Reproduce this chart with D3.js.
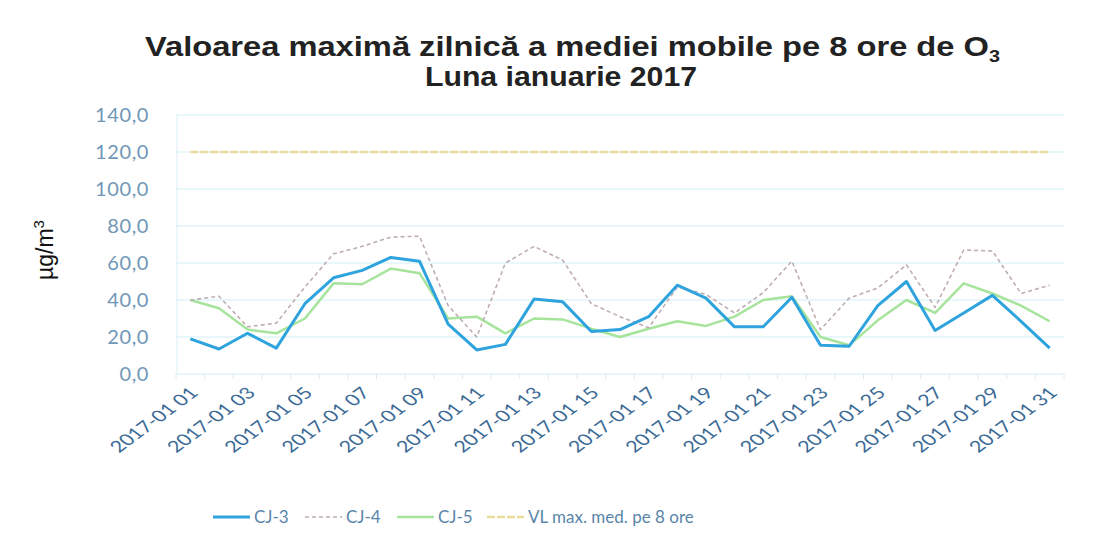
<!DOCTYPE html>
<html>
<head>
<meta charset="utf-8">
<style>
  body { margin: 0; background: #fff; }
  svg { display: block; }
</style>
</head>
<body>
<svg id="chart" width="1113" height="544"></svg>
<script src="https://cdn.jsdelivr.net/npm/d3@7"></script>
<script>
// day labels for Jan 2017
const days = d3.range(1, 32).map(d => "2017-01 " + String(d).padStart(2, "0"))

const cj3 = [19, 13.5, 22, 14, 38, 52, 56, 63, 61, 27, 13, 16, 40.5, 39, 23, 24, 31, 48, 41, 25.5, 25.5, 41.5, 15.5, 15, 37, 50, 23.5, 33, 42.5, 28.5, 14]
const cj4 = [40, 42, 25.5, 27.5, 47, 65, 69, 74, 74.5, 37, 20, 60, 69, 61.5, 38, 31, 25, 47, 43, 33, 44, 61, 24, 41, 46.5, 59, 36, 67, 66.5, 43.5, 48]
const cj5 = [40, 35.5, 24, 22, 30, 49, 48.5, 57, 54.5, 30, 31, 22, 30, 29.5, 24.5, 20, 24.5, 28.5, 26, 31, 40, 42, 20, 15.5, 29, 40, 33, 49, 43.5, 37, 28.5]
const vl = days.map(() => 120)

const yTicks = [0, 20, 40, 60, 80, 100, 120, 140]

const series = [
  { name: "CJ-3", values: cj3, color: "#2ea3dd", width: 3, dash: null },
  { name: "CJ-4", values: cj4, color: "#bfadb2", width: 1.6, dash: "4,3" },
  { name: "CJ-5", values: cj5, color: "#a6e49c", width: 2.5, dash: null },
  { name: "VL max. med. pe 8 ore", values: vl, color: "#e9dc9c", width: 2.5, dash: "8,2" }
]

const svg = d3.select("#chart")

let x = d3.scaleBand().domain(days).range([176, 1064]).padding(0)
let y = d3.scaleLinear().domain([0, 140]).range([374, 115])

// gridlines
svg.append("g").selectAll("line")
  .data(yTicks)
  .enter().append("line")
  .attr("x1", 176).attr("x2", 1064)
  .attr("y1", d => y(d)).attr("y2", d => y(d))
  .attr("stroke", "#d0eff5").attr("stroke-width", 1.2)

// y axis line
svg.append("line")
  .attr("x1", 177).attr("x2", 177).attr("y1", 115).attr("y2", 374)
  .attr("stroke", "#dcf0f5")

// category tick marks
svg.append("g").selectAll("line")
  .data(d3.range(0, 32))
  .enter().append("line")
  .attr("x1", d => 176 + d * x.bandwidth()).attr("x2", d => 176 + d * x.bandwidth())
  .attr("y1", 374).attr("y2", 379)
  .attr("stroke", "#d6ecf1")

// y tick labels
svg.append("g").selectAll("text")
  .data(yTicks)
  .enter().append("text")
  .attr("x", 149).attr("y", d => y(d) + 7)
  .attr("text-anchor", "end")
  .attr("font-family", "Lato, sans-serif").attr("font-size", 20)
  .attr("letter-spacing", 0.6)
  .attr("fill", "#7097b8")
  .text(d => d.toFixed(1).replace(".", ","))

// x labels, every other day (slightly stretched like the scan)
svg.append("g").selectAll("text")
  .data(days.filter((d, i) => i % 2 == 0))
  .enter().append("text")
  .attr("transform", d => `translate(${x(d) + x.bandwidth() / 2 + 9},${394}) scale(1.35,1) rotate(-45)`)
  .attr("text-anchor", "end")
  .attr("font-family", "Lato, sans-serif").attr("font-size", 16)
  .attr("fill", "#3a6a95")
  .text(d => d)

// lines
let line = d3.line()
  .x((d, i) => x(days[i]) + x.bandwidth() / 2)
  .y(d => y(d))

svg.append("g").selectAll("path")
  .data(series.slice().reverse())
  .enter().append("path")
  .attr("d", d => line(d.values))
  .attr("fill", "none")
  .attr("stroke", d => d.color)
  .attr("stroke-width", d => d.width)
  .attr("stroke-dasharray", d => d.dash)
  .attr("stroke-linejoin", "round")

// title
let title = svg.append("text")
  .attr("x", 145).attr("y", 56)
  .attr("textLength", 855).attr("lengthAdjust", "spacingAndGlyphs")
  .attr("font-family", "'Liberation Sans', Arial, sans-serif")
  .attr("font-weight", "bold").attr("font-size", 28)
  .attr("fill", "#222")
title.append("tspan").text("Valoarea maximă zilnică a mediei mobile pe 8 ore de O")
title.append("tspan").text("3").attr("font-size", 17).attr("dy", 6)

svg.append("text")
  .attr("x", 425).attr("y", 86)
  .attr("textLength", 272).attr("lengthAdjust", "spacingAndGlyphs")
  .attr("font-family", "'Liberation Sans', Arial, sans-serif")
  .attr("font-weight", "bold").attr("font-size", 28)
  .attr("fill", "#222")
  .text("Luna ianuarie 2017")

// y axis title
let yt = svg.append("text")
  .attr("transform", "translate(53,250) rotate(-90)")
  .attr("text-anchor", "middle")
  .attr("font-family", "'Liberation Sans', Arial, sans-serif")
  .attr("font-size", 23)
  .attr("fill", "#111")
yt.append("tspan").text("µg/m")
yt.append("tspan").text("3").attr("font-size", 15).attr("dy", -9)

// legend
let legX = [213, 305, 397, 487]
let leg = svg.append("g").selectAll("g")
  .data(series)
  .enter().append("g")
  .attr("transform", (d, i) => `translate(${legX[i]},517)`)
leg.append("line")
  .attr("x1", 0).attr("x2", 37).attr("y1", 0).attr("y2", 0)
  .attr("stroke", d => d.color).attr("stroke-width", d => d.width)
  .attr("stroke-dasharray", d => d.dash)
leg.append("text")
  .attr("x", 41).attr("y", 6)
  .attr("font-family", "Lato, sans-serif").attr("font-size", 17)
  .attr("fill", "#5a86aa")
  .text(d => d.name)
</script>
</body>
</html>
